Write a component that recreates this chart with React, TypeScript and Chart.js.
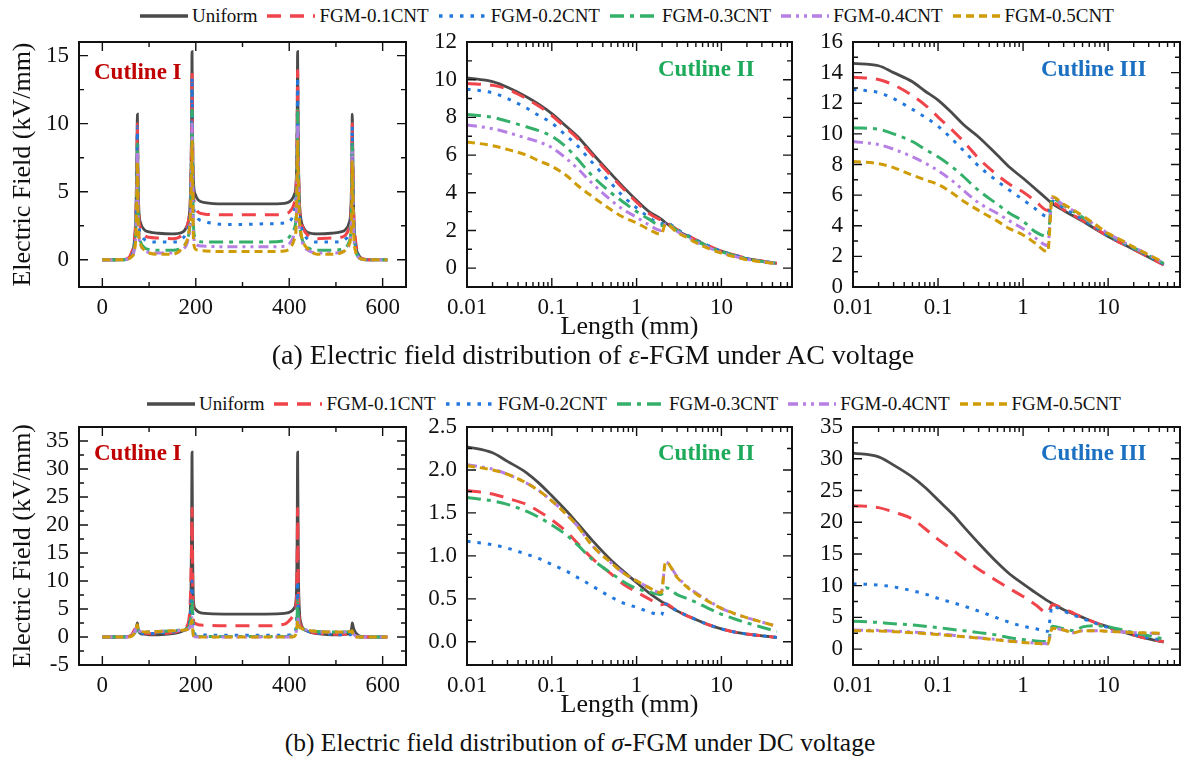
import React, { useEffect, useRef } from 'react';
import { Chart, registerables } from 'chart.js';

Chart.register(...registerables);
Chart.defaults.font.family = "'Liberation Serif', 'Times New Roman', serif";
Chart.defaults.color = '#111';

// ---------------- series meta ----------------
const SERIES = ['Uniform', 'FGM-0.1CNT', 'FGM-0.2CNT', 'FGM-0.3CNT', 'FGM-0.4CNT', 'FGM-0.5CNT'];
const COLORS = ['#4a4a4a', '#f0444b', '#2278de', '#35b06a', '#b67fe4', '#cf9c07'];
const DASHES: number[][] = [[], [14, 9], [3.5, 7], [14, 6, 4, 6], [10, 5, 3, 5, 3, 5], [8, 5]];
const WIDTHS = [2.8, 3, 3, 3, 3, 3];

// ---------------- Cutline I x positions (linear, mm) ----------------
const X_CUT1 = [0, 40, 55, 62, 68, 72, 74, 75, 76, 78, 82, 90, 100, 120, 150, 170, 180, 185, 188, 190, 191, 192, 193, 195, 199, 205, 220, 260, 305, 350, 390, 405, 411, 415, 417, 418, 419, 420, 422, 425, 430, 440, 460, 490, 510, 520, 528, 532, 534, 535, 536, 538, 542, 548, 555, 570, 610];

// ---------------- Cutline II / III x positions (log, mm) ----------------
const X_LOG = [0.01, 0.02, 0.03, 0.05, 0.07, 0.1, 0.15, 0.2, 0.3, 0.5, 0.7, 1, 1.4, 1.95, 2.2, 3, 4, 5, 7, 10, 15, 20, 30, 45];

// ---------------- (a) AC, Cutline I ----------------
const A1_UNIFORM = [0, 0, 0.1, 0.4, 1.2, 3.5, 8, 10.7, 7, 3.8, 2.7, 2.2, 2.05, 1.95, 1.9, 2.0, 2.4, 3.0, 4.2, 7, 10, 15.3, 10, 5.8, 4.8, 4.4, 4.2, 4.1, 4.1, 4.1, 4.15, 4.4, 4.8, 5.8, 10, 15.3, 10, 7, 4.2, 3.0, 2.4, 2.0, 1.9, 1.95, 2.05, 2.2, 2.7, 3.8, 7, 10.7, 8, 3.5, 1.2, 0.4, 0.1, 0, 0];
const A1_C01 = [0, 0, 0.1, 0.5, 1.4, 3.5, 7.5, 10, 6.5, 3.3, 2.3, 1.8, 1.65, 1.6, 1.55, 1.8, 2.3, 3.0, 4.0, 6.5, 9.5, 13.9, 9.5, 4.8, 4.0, 3.5, 3.35, 3.3, 3.3, 3.3, 3.35, 3.7, 4.2, 5.5, 9.5, 13.9, 9.5, 6.5, 4.0, 3.0, 2.3, 1.8, 1.55, 1.6, 1.65, 1.8, 2.3, 3.3, 6.5, 10, 7.5, 3.5, 1.4, 0.5, 0.1, 0, 0];
const A1_C02 = [0, 0, 0.05, 0.3, 1.0, 3.0, 7, 9.8, 6, 2.8, 1.9, 1.5, 1.35, 1.3, 1.3, 1.5, 2.0, 2.6, 3.6, 6, 9, 13.4, 9, 4.2, 3.3, 3.0, 2.8, 2.6, 2.6, 2.65, 2.7, 3.0, 3.6, 5, 9, 13.4, 9, 6, 3.6, 2.6, 2.0, 1.5, 1.3, 1.3, 1.35, 1.5, 1.9, 2.8, 6, 9.8, 7, 3.0, 1.0, 0.3, 0.05, 0, 0];
const A1_C03 = [0, 0, 0.05, 0.2, 0.8, 2.5, 6, 8.5, 5, 2.2, 1.3, 0.9, 0.75, 0.7, 0.7, 0.9, 1.3, 1.9, 2.8, 5, 7.5, 11, 7.5, 2.5, 1.6, 1.4, 1.3, 1.3, 1.3, 1.3, 1.4, 1.9, 2.3, 3.5, 7.5, 11, 7.5, 5, 2.8, 1.9, 1.3, 0.9, 0.7, 0.7, 0.75, 0.9, 1.3, 2.2, 5, 8.5, 6, 2.5, 0.8, 0.2, 0.05, 0, 0];
const A1_C04 = [0, 0, 0.05, 0.2, 0.7, 2.2, 5.5, 8, 4.5, 2.0, 1.1, 0.7, 0.55, 0.5, 0.5, 0.7, 1.1, 1.7, 2.5, 4.5, 7, 10, 7, 2.0, 1.2, 1.05, 1.0, 0.95, 0.95, 0.95, 1.0, 1.4, 1.9, 3.0, 7, 10, 7, 4.5, 2.5, 1.7, 1.1, 0.7, 0.5, 0.5, 0.55, 0.7, 1.1, 2.0, 4.5, 8, 5.5, 2.2, 0.7, 0.2, 0.05, 0, 0];
const A1_C05 = [0, 0, 0.05, 0.2, 0.6, 2.0, 5, 7.2, 4, 1.8, 1.1, 0.7, 0.5, 0.4, 0.4, 0.8, 1.3, 2.0, 3.0, 5, 6.5, 8.7, 6.5, 1.5, 0.8, 0.7, 0.65, 0.6, 0.6, 0.6, 0.65, 1.0, 1.5, 2.5, 6.5, 8.7, 6.5, 5, 3.0, 2.0, 1.3, 0.8, 0.4, 0.4, 0.5, 0.7, 1.1, 1.8, 4, 7.2, 5, 2.0, 0.6, 0.2, 0.05, 0, 0];

// ---------------- (a) AC, Cutline II ----------------
const A2_UNIFORM = [10.1, 9.9, 9.6, 9.1, 8.7, 8.2, 7.5, 7.0, 6.1, 5.0, 4.3, 3.6, 3.0, 2.6, 2.4, 2.0, 1.7, 1.5, 1.15, 0.9, 0.65, 0.5, 0.37, 0.25];
const A2_C01 = [9.8, 9.7, 9.5, 9.0, 8.6, 8.1, 7.4, 6.9, 6.0, 4.9, 4.2, 3.5, 2.9, 2.55, 2.45, 2.05, 1.75, 1.5, 1.2, 0.9, 0.67, 0.52, 0.38, 0.26];
const A2_C02 = [9.5, 9.3, 9.0, 8.5, 8.1, 7.7, 7.0, 6.5, 5.6, 4.5, 3.8, 3.2, 2.7, 2.35, 2.45, 2.05, 1.75, 1.5, 1.2, 0.9, 0.66, 0.5, 0.37, 0.26];
const A2_C03 = [8.15, 8.0, 7.8, 7.5, 7.3, 7.0, 6.4, 5.8, 4.9, 4.0, 3.5, 3.0, 2.6, 2.25, 2.4, 2.0, 1.7, 1.45, 1.15, 0.87, 0.64, 0.5, 0.36, 0.25];
const A2_C04 = [7.6, 7.4, 7.2, 6.9, 6.7, 6.4, 5.8, 5.3, 4.5, 3.6, 3.1, 2.7, 2.3, 2.0, 2.35, 1.95, 1.65, 1.4, 1.1, 0.83, 0.6, 0.47, 0.34, 0.24];
const A2_C05 = [6.7, 6.5, 6.3, 6.0, 5.7, 5.4, 4.9, 4.4, 3.8, 3.1, 2.7, 2.4, 2.05, 1.8, 2.35, 1.9, 1.6, 1.35, 1.05, 0.8, 0.58, 0.45, 0.33, 0.23];

// ---------------- (a) AC, Cutline III ----------------
const A3_UNIFORM = [14.6, 14.45, 14.0, 13.4, 12.8, 12.2, 11.3, 10.6, 9.8, 8.6, 7.8, 7.1, 6.4, 5.7, 5.45, 5.0, 4.6, 4.3, 3.8, 3.3, 2.8, 2.45, 1.95, 1.45];
const A3_C01 = [13.7, 13.55, 13.2, 12.5, 11.9, 11.1, 10.2, 9.5, 8.4, 7.3, 6.7, 6.2, 5.6, 5.0, 5.5, 5.05, 4.65, 4.35, 3.85, 3.3, 2.8, 2.45, 1.95, 1.45];
const A3_C02 = [12.9, 12.7, 12.3, 11.6, 11.1, 10.5, 9.6, 8.9, 7.9, 6.9, 6.3, 5.7, 5.1, 4.6, 5.6, 5.15, 4.75, 4.4, 3.9, 3.35, 2.85, 2.5, 2.0, 1.5];
const A3_C03 = [10.4, 10.3, 10.0, 9.5, 9.0, 8.5, 7.8, 7.2, 6.3, 5.4, 4.8, 4.3, 3.6, 3.3, 5.8, 5.3, 4.9, 4.55, 4.0, 3.45, 2.9, 2.55, 2.05, 1.55];
const A3_C04 = [9.5, 9.3, 9.0, 8.5, 8.1, 7.6, 6.9, 6.3, 5.5, 4.8, 4.3, 3.8, 3.2, 2.7, 5.8, 5.35, 4.95, 4.6, 4.05, 3.5, 2.95, 2.6, 2.1, 1.55];
const A3_C05 = [8.2, 8.05, 7.8, 7.3, 7.0, 6.7, 6.1, 5.6, 5.0, 4.3, 3.8, 3.4, 2.85, 2.3, 5.9, 5.4, 5.0, 4.65, 4.1, 3.5, 3.0, 2.6, 2.1, 1.6];

// ---------------- (b) DC, Cutline I ----------------
const B1_UNIFORM = [0, 0, 0.1, 0.3, 0.8, 1.5, 2.2, 2.5, 1.8, 1.0, 0.6, 0.5, 0.4, 0.4, 0.6, 1.0, 1.5, 2.5, 4.5, 10, 20, 33, 18, 6.5, 5.0, 4.5, 4.2, 4.1, 4.1, 4.1, 4.2, 4.6, 5.2, 7, 18, 33, 20, 10, 4.5, 2.5, 1.5, 1.0, 0.6, 0.4, 0.4, 0.5, 0.6, 1.0, 1.8, 2.5, 2.2, 1.5, 0.8, 0.3, 0.1, 0, 0];
const B1_C01 = [0, 0, 0.05, 0.3, 1.2, 1.6, 1.5, 1.4, 1.2, 1.0, 0.8, 0.7, 0.6, 0.6, 0.8, 1.2, 1.8, 3, 6, 12, 17, 23, 12, 3.0, 2.4, 2.2, 2.1, 2.0, 2.0, 2.0, 2.3, 3.4, 4.2, 6, 14, 23, 14, 7, 3.0, 2.0, 1.4, 1.0, 0.7, 0.5, 0.5, 0.5, 0.5, 0.5, 0.4, 0.4, 0.3, 0.2, 0.1, 0.05, 0, 0, 0];
const B1_C02 = [0, 0, 0.05, 0.2, 0.6, 1.0, 1.2, 1.2, 1.0, 0.8, 0.7, 0.6, 0.6, 0.7, 0.9, 1.1, 1.4, 2.0, 3.5, 6.5, 8, 10, 6, 1.2, 0.5, 0.4, 0.35, 0.3, 0.3, 0.3, 0.3, 0.4, 0.6, 2, 6, 10, 6, 3.5, 2.0, 1.5, 1.2, 1.0, 0.7, 0.5, 0.4, 0.4, 0.4, 0.4, 0.4, 0.4, 0.3, 0.2, 0.1, 0.05, 0, 0, 0];
const B1_C03 = [0, 0, 0.05, 0.2, 0.7, 1.2, 1.5, 1.6, 1.3, 1.0, 0.9, 0.9, 0.9, 1.0, 1.1, 1.3, 1.5, 1.8, 2.5, 4.5, 5.5, 6.5, 4, 0.6, 0.2, 0.1, 0.1, 0.1, 0.1, 0.1, 0.1, 0.2, 0.4, 1.5, 4, 6.5, 5, 3, 2.0, 1.7, 1.4, 1.2, 1.0, 0.9, 0.9, 0.9, 0.9, 0.9, 1.0, 1.0, 0.8, 0.5, 0.2, 0.05, 0, 0, 0];
const B1_C04 = [0, 0, 0.05, 0.2, 0.8, 1.5, 2.0, 2.0, 1.6, 1.2, 1.0, 0.9, 0.9, 1.0, 1.1, 1.2, 1.3, 1.5, 1.8, 2.6, 3.0, 3.5, 2, 0.3, 0.05, 0, 0, 0, 0, 0, 0, 0.05, 0.2, 1.0, 2.5, 3.5, 3, 2.5, 1.8, 1.6, 1.4, 1.2, 1.0, 0.9, 0.9, 0.9, 0.9, 1.0, 1.0, 1.0, 0.8, 0.5, 0.2, 0.05, 0, 0, 0];
const B1_C05 = [0, 0, 0, 0.1, 0.6, 1.4, 2.1, 2.2, 1.5, 1.1, 1.0, 0.9, 0.9, 1.0, 1.1, 1.2, 1.3, 1.5, 1.8, 2.5, 2.8, 3.0, 1.8, 0.2, 0, 0, 0, 0, 0, 0, 0, 0, 0.1, 0.8, 2.2, 3.0, 2.8, 2.3, 1.8, 1.6, 1.4, 1.2, 1.0, 0.9, 0.9, 0.9, 1.0, 1.0, 1.1, 1.1, 0.2, 0.05, 0, 0, 0, 0, 0];

// ---------------- (b) DC, Cutline II ----------------
const B2_UNIFORM = [2.27, 2.2, 2.1, 1.97, 1.85, 1.7, 1.52, 1.38, 1.18, 0.95, 0.82, 0.69, 0.57, 0.47, 0.44, 0.36, 0.3, 0.26, 0.2, 0.15, 0.11, 0.09, 0.07, 0.05];
const B2_C01 = [1.76, 1.72, 1.67, 1.6, 1.52, 1.42, 1.28, 1.15, 0.97, 0.79, 0.67, 0.58, 0.5, 0.43, 0.44, 0.36, 0.3, 0.26, 0.2, 0.15, 0.11, 0.09, 0.07, 0.05];
const B2_C02 = [1.17, 1.13, 1.09, 1.02, 0.97, 0.9, 0.82, 0.75, 0.65, 0.52, 0.45, 0.4, 0.35, 0.31, 0.44, 0.36, 0.3, 0.26, 0.2, 0.15, 0.11, 0.09, 0.07, 0.05];
const B2_C03 = [1.68, 1.64, 1.6, 1.52, 1.45, 1.36, 1.24, 1.13, 0.96, 0.8, 0.7, 0.62, 0.58, 0.55, 0.63, 0.55, 0.5, 0.46, 0.39, 0.32, 0.26, 0.22, 0.17, 0.12];
const B2_C04 = [2.06, 2.01, 1.95, 1.85, 1.76, 1.64, 1.48, 1.35, 1.12, 0.92, 0.8, 0.71, 0.63, 0.57, 0.93, 0.76, 0.64, 0.57, 0.48, 0.39, 0.32, 0.28, 0.23, 0.18];
const B2_C05 = [2.05, 2.0, 1.95, 1.85, 1.76, 1.64, 1.48, 1.35, 1.12, 0.92, 0.8, 0.71, 0.63, 0.57, 0.93, 0.75, 0.63, 0.56, 0.47, 0.39, 0.32, 0.28, 0.23, 0.18];

// ---------------- (b) DC, Cutline III ----------------
const B3_UNIFORM = [30.9, 30.3, 29.0, 27.1, 25.5, 23.5, 21.2, 19.3, 16.7, 13.6, 11.8, 10.3, 8.9, 7.6, 7.2, 6.2, 5.5, 5.0, 4.2, 3.5, 2.7, 2.2, 1.6, 1.1];
const B3_C01 = [22.6, 22.3, 21.6, 20.5, 19.0, 17.3, 15.6, 14.3, 12.6, 10.7, 9.5, 8.3, 7.0, 5.7, 7.0, 6.4, 5.6, 5.0, 4.2, 3.4, 2.7, 2.2, 1.6, 1.2];
const B3_C02 = [10.3, 10.1, 9.8, 9.2, 8.7, 8.0, 7.3, 6.8, 6.0, 4.9, 4.2, 3.6, 3.2, 2.8, 6.8, 6.0, 5.3, 4.8, 4.1, 3.4, 2.8, 2.3, 1.8, 1.4];
const B3_C03 = [4.4, 4.2, 4.0, 3.8, 3.6, 3.4, 3.1, 2.9, 2.6, 2.2, 1.8, 1.5, 1.3, 1.2, 3.6, 3.2, 2.9, 3.5, 3.7, 3.5, 3.0, 2.6, 2.1, 1.6];
const B3_C04 = [3.0, 2.95, 2.85, 2.7, 2.55, 2.4, 2.2, 2.0, 1.8, 1.5, 1.3, 1.1, 0.95, 0.85, 3.3, 3.0, 2.6, 2.9, 2.9, 2.8, 2.7, 2.6, 2.5, 2.4];
const B3_C05 = [2.9, 2.85, 2.75, 2.6, 2.45, 2.3, 2.1, 1.95, 1.75, 1.45, 1.25, 1.05, 0.9, 0.8, 3.3, 3.0, 2.6, 2.9, 2.9, 2.8, 2.7, 2.6, 2.55, 2.5];

// ---------------- tick labels ----------------
const TICKS_X_CUT1 = [0, 200, 400, 600];
const TICKS_X_LOG = [0.01, 0.1, 1, 10];
const TICKS_Y_A1 = [0, 5, 10, 15];
const TICKS_Y_A2 = [0, 2, 4, 6, 8, 10, 12];
const TICKS_Y_A3 = [0, 2, 4, 6, 8, 10, 12, 14, 16];
const TICKS_Y_B1 = [-5, 0, 5, 10, 15, 20, 25, 30, 35];
const TICKS_Y_B2 = [0, 0.5, 1.0, 1.5, 2.0, 2.5];
const TICKS_Y_B3 = [0, 5, 10, 15, 20, 25, 30, 35];

// ---------------- plugin: inward ticks on all four sides + frame ----------------
function minorValues(scale: any, step: number): number[] {
  const out: number[] = [];
  if (scale.type === 'logarithmic') {
    for (let e = Math.floor(Math.log10(scale.min)); Math.pow(10, e) <= scale.max; e++) {
      for (let m = 2; m <= 9; m++) {
        const v = m * Math.pow(10, e);
        if (v > scale.min && v < scale.max) out.push(v);
      }
    }
  } else if (step) {
    for (let v = Math.ceil(scale.min / step) * step; v < scale.max; v += step) out.push(+v.toFixed(6));
  }
  return out;
}

const frameTicks = {
  id: 'frameTicks',
  afterDraw(chart: any, _args: any, opts: any) {
    const { ctx, chartArea } = chart;
    const { left, right, top, bottom } = chartArea;
    const xs = chart.scales.x;
    const ys = chart.scales.y;
    const MAJ = 9;
    const MIN = 5;
    ctx.save();
    ctx.strokeStyle = '#111';
    ctx.lineWidth = 1.4;
    ctx.beginPath();
    const vx = (v: number, len: number) => {
      const p = xs.getPixelForValue(v);
      if (p < left + 2 || p > right - 2) return;
      ctx.moveTo(p, bottom);
      ctx.lineTo(p, bottom - len);
      ctx.moveTo(p, top);
      ctx.lineTo(p, top + len);
    };
    const vy = (v: number, len: number) => {
      const p = ys.getPixelForValue(v);
      if (p < top + 2 || p > bottom - 2) return;
      ctx.moveTo(left, p);
      ctx.lineTo(left + len, p);
      ctx.moveTo(right, p);
      ctx.lineTo(right - len, p);
    };
    minorValues(xs, opts.xMinor).forEach((v) => vx(v, MIN));
    minorValues(ys, opts.yMinor).forEach((v) => vy(v, MIN));
    xs.ticks.forEach((t: any) => vx(t.value, MAJ));
    ys.ticks.forEach((t: any) => vy(t.value, MAJ));
    ctx.stroke();
    ctx.lineWidth = 2;
    ctx.strokeRect(left, top, right - left, bottom - top);
    ctx.restore();
  },
};

// ---------------- panel ----------------
type PanelProps = {
  left: number;
  top: number;
  width: number;
  height: number;
  yAxisW: number;
  padRight: number;
  padTop: number;
  xAxisH: number;
  xLog: boolean;
  xMin: number;
  xMax: number;
  xTicks: number[];
  xMinor: number;
  yMin: number;
  yMax: number;
  yTicks: number[];
  yMinor: number;
  yFixed?: number;
  xs: number[];
  series: number[][];
  yTitle?: string;
  xTitle?: string;
};

function Panel(p: PanelProps) {
  const ref = useRef<HTMLCanvasElement | null>(null);
  useEffect(() => {
    if (!ref.current) return;
    const datasets = SERIES.map((name, i) => ({
      label: name,
      data: p.xs.map((x, j) => ({ x, y: p.series[i][j] })),
      borderColor: COLORS[i],
      backgroundColor: COLORS[i],
      borderWidth: WIDTHS[i],
      borderDash: DASHES[i],
      pointRadius: 0,
      fill: false,
      cubicInterpolationMode: 'monotone' as const,
      order: SERIES.length - 1 - i,
    }));
    const chart = new Chart(ref.current, {
      type: 'line',
      data: { datasets },
      options: {
        animation: false,
        responsive: false,
        maintainAspectRatio: false,
        events: [],
        layout: { padding: { top: p.padTop, right: p.padRight, left: 0, bottom: 0 } },
        plugins: {
          legend: { display: false },
          tooltip: { enabled: false },
          // @ts-ignore
          frameTicks: { xMinor: p.xMinor, yMinor: p.yMinor },
        },
        scales: {
          x: {
            type: p.xLog ? 'logarithmic' : 'linear',
            min: p.xMin,
            max: p.xMax,
            grid: { display: false, drawTicks: false },
            border: { display: false },
            ticks: {
              font: { size: 23 },
              color: '#111',
              padding: 7,
              maxRotation: 0,
              autoSkip: false,
              callback: (v: any) => String(v),
            },
            afterBuildTicks: (s: any) => {
              s.ticks = p.xTicks.map((v) => ({ value: v }));
            },
            afterFit: (s: any) => {
              s.height = p.xAxisH;
              s.paddingLeft = 0;
              s.paddingRight = 0;
            },
            title: p.xTitle
              ? { display: true, text: p.xTitle, font: { size: 26 }, color: '#111', padding: { top: 0, bottom: 2 } }
              : { display: false },
          },
          y: {
            type: 'linear',
            min: p.yMin,
            max: p.yMax,
            grid: { display: false, drawTicks: false },
            border: { display: false },
            ticks: {
              font: { size: 23 },
              color: '#111',
              padding: 10,
              autoSkip: false,
              callback: (v: any) => (p.yFixed !== undefined ? Number(v).toFixed(p.yFixed) : String(v)),
            },
            afterBuildTicks: (s: any) => {
              s.ticks = p.yTicks.map((v) => ({ value: v }));
            },
            afterFit: (s: any) => {
              s.width = p.yAxisW;
              s.paddingTop = 0;
              s.paddingBottom = 0;
            },
            title: p.yTitle
              ? { display: true, text: p.yTitle, font: { size: 26 }, color: '#111', padding: { top: 8, bottom: 0 } }
              : { display: false },
          },
        },
      } as any,
      plugins: [frameTicks as any],
    });
    return () => chart.destroy();
  }, []);
  return (
    <canvas
      ref={ref}
      width={p.width}
      height={p.height}
      style={{ position: 'absolute', left: p.left, top: p.top, width: p.width, height: p.height }}
    />
  );
}

// ---------------- legend ----------------
function Legend({ left, top }: { left: number; top: number }) {
  return (
    <div
      style={{
        position: 'absolute',
        left,
        top,
        height: 24,
        display: 'flex',
        alignItems: 'center',
        fontFamily: "'Liberation Serif', 'Times New Roman', serif",
        fontSize: 19,
        color: '#111',
        whiteSpace: 'nowrap',
      }}
    >
      {SERIES.map((s, i) => (
        <div key={s} style={{ display: 'flex', alignItems: 'center', marginRight: 9 }}>
          <svg width={50} height={10} style={{ display: 'block' }}>
            <line
              x1={1}
              y1={5}
              x2={49}
              y2={5}
              stroke={COLORS[i]}
              strokeWidth={3.5}
              strokeDasharray={DASHES[i].length ? DASHES[i].join(' ') : undefined}
            />
          </svg>
          <span style={{ marginLeft: 3 }}>{s}</span>
        </div>
      ))}
    </div>
  );
}

const labelStyle = (left: number, cy: number, color: string): React.CSSProperties => ({
  position: 'absolute',
  left,
  top: cy - 12,
  lineHeight: '23px',
  fontSize: 23,
  fontWeight: 'bold',
  color,
  fontFamily: "'Liberation Serif', 'Times New Roman', serif",
  whiteSpace: 'nowrap',
});

const captionStyle = (cx: number, cy: number, size: number): React.CSSProperties => ({
  position: 'absolute',
  left: cx - 450,
  width: 900,
  top: cy - 15,
  lineHeight: '30px',
  textAlign: 'center',
  fontSize: size,
  color: '#111',
  fontFamily: "'Liberation Serif', 'Times New Roman', serif",
  whiteSpace: 'nowrap',
});

const RED_LABEL = '#c00000';
const GREEN_LABEL = '#1daa5a';
const BLUE_LABEL = '#1b70c2';

export default function App() {
  const rowA = { top: 28, height: 317, padTop: 14, xAxisH: 58 };
  const rowB = { top: 413, height: 310, padTop: 14, xAxisH: 58 };
  const colI = { left: 0, width: 420, yAxisW: 79, padRight: 14 };
  const colII = { left: 420, width: 395, yAxisW: 47, padRight: 23 };
  const colIII = { left: 815, width: 369, yAxisW: 38, padRight: 4 };
  return (
    <div style={{ position: 'absolute', left: 0, top: 0, width: 1184, height: 757, background: '#fff', overflow: 'hidden' }}>
      <Legend left={139} top={4} />
      <Legend left={146} top={392} />

      <Panel {...rowA} {...colI} xLog={false} xMin={-50} xMax={650} xTicks={TICKS_X_CUT1} xMinor={100}
        yMin={-2} yMax={16} yTicks={TICKS_Y_A1} yMinor={2.5} xs={X_CUT1}
        series={[A1_UNIFORM, A1_C01, A1_C02, A1_C03, A1_C04, A1_C05]} yTitle="Electric Field (kV/mm)" />
      <Panel {...rowA} {...colII} xLog={true} xMin={0.01} xMax={68} xTicks={TICKS_X_LOG} xMinor={0}
        yMin={-1} yMax={12} yTicks={TICKS_Y_A2} yMinor={1} xs={X_LOG}
        series={[A2_UNIFORM, A2_C01, A2_C02, A2_C03, A2_C04, A2_C05]} xTitle="Length (mm)" />
      <Panel {...rowA} {...colIII} xLog={true} xMin={0.01} xMax={70} xTicks={TICKS_X_LOG} xMinor={0}
        yMin={0} yMax={16} yTicks={TICKS_Y_A3} yMinor={1} xs={X_LOG}
        series={[A3_UNIFORM, A3_C01, A3_C02, A3_C03, A3_C04, A3_C05]} />

      <Panel {...rowB} {...colI} xLog={false} xMin={-50} xMax={650} xTicks={TICKS_X_CUT1} xMinor={100}
        yMin={-5} yMax={37.5} yTicks={TICKS_Y_B1} yMinor={2.5} xs={X_CUT1}
        series={[B1_UNIFORM, B1_C01, B1_C02, B1_C03, B1_C04, B1_C05]} yTitle="Electric Field (kV/mm)" />
      <Panel {...rowB} {...colII} xLog={true} xMin={0.01} xMax={68} xTicks={TICKS_X_LOG} xMinor={0}
        yMin={-0.27} yMax={2.5} yTicks={TICKS_Y_B2} yMinor={0.25} yFixed={1} xs={X_LOG}
        series={[B2_UNIFORM, B2_C01, B2_C02, B2_C03, B2_C04, B2_C05]} xTitle="Length (mm)" />
      <Panel {...rowB} {...colIII} xLog={true} xMin={0.01} xMax={70} xTicks={TICKS_X_LOG} xMinor={0}
        yMin={-2.5} yMax={35} yTicks={TICKS_Y_B3} yMinor={2.5} xs={X_LOG}
        series={[B3_UNIFORM, B3_C01, B3_C02, B3_C03, B3_C04, B3_C05]} />

      <div style={labelStyle(94, 72, RED_LABEL)}>Cutline I</div>
      <div style={labelStyle(658, 69, GREEN_LABEL)}>Cutline II</div>
      <div style={labelStyle(1041, 69, BLUE_LABEL)}>Cutline III</div>
      <div style={labelStyle(94, 453, RED_LABEL)}>Cutline I</div>
      <div style={labelStyle(658, 453, GREEN_LABEL)}>Cutline II</div>
      <div style={labelStyle(1041, 453, BLUE_LABEL)}>Cutline III</div>

      <div style={captionStyle(593, 355, 28)}>
        (a) Electric field distribution of <i>ε</i>-FGM under AC voltage
      </div>
      <div style={captionStyle(580, 743, 25.5)}>
        (b) Electric field distribution of <i>σ</i>-FGM under DC voltage
      </div>
    </div>
  );
}
